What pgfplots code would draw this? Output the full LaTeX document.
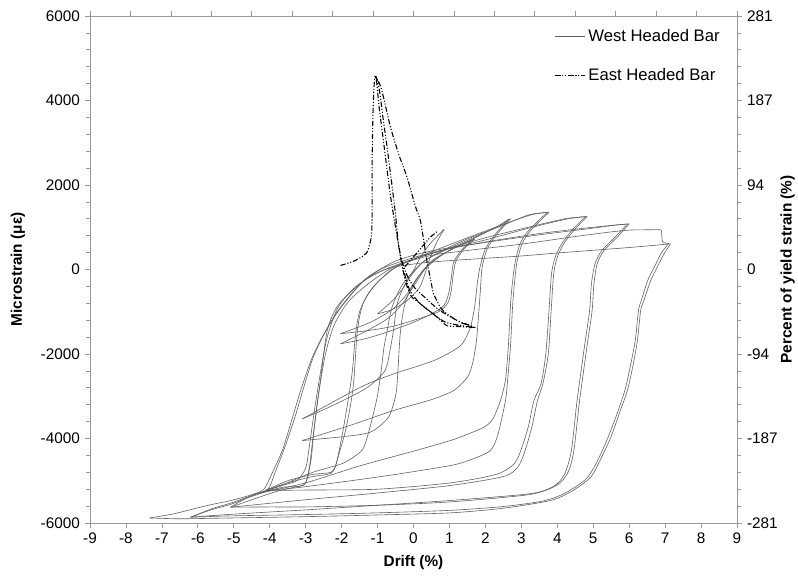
\documentclass[border=0pt]{standalone}
\usepackage{fontspec}
\setmainfont{Liberation Sans}
\usepackage{pgfplots}
\pgfplotsset{compat=1.18}

\pgfplotsset{
  west/.style={black!62, line width=0.45pt, smooth, tension=0.45, forget plot},
  westleg/.style={black!62, line width=0.45pt, smooth, tension=0.45},
  east/.style={black, line width=0.8pt, smooth, tension=0.4,
    dash pattern=on 4pt off 1.4pt on 0.8pt off 1.4pt on 0.8pt off 1.4pt},
  frame/.style={
    at={(0,0)}, anchor=south west,
    scale only axis, width=485.25pt, height=380.25pt,
    ymin=-6000, ymax=6000,
    ytick={-6000,-4000,-2000,0,2000,4000,6000},
    minor y tick num=4,
    tick align=outside,
    axis line style={black!40},
    tick style={black!40, line width=0.5pt},
    major tick length=4pt, minor tick length=3pt,
    ticklabel style={font=\fontsize{11.5}{13}\selectfont},
  },
}

\begin{document}
\begin{tikzpicture}
\useasboundingbox (-67.5pt,-45.75pt) rectangle (531pt,392.25pt);

\begin{axis}[frame,
  xmin=-9, xmax=9,
  xtick={-9,-8,-7,-6,-5,-4,-3,-2,-1,0,1,2,3,4,5,6,7,8,9},
  xticklabels={-9,-8,-7,-6,-5,-4,-3,-2,-1,0,1,2,3,4,5,6,7,8,9},
  yticklabels={-6000,-4000,-2000,0,2000,4000,6000},
  xtick pos=bottom, ytick pos=left,
  xlabel={Drift (\%)}, ylabel={Microstrain (με)},
  every axis x label/.style={at={(rel axis cs:0.5,0)}, yshift=-30pt, anchor=center,
    font=\bfseries\fontsize{11.5}{13}\selectfont},
  every axis y label/.style={at={(rel axis cs:0,0.5)}, xshift=-54pt, rotate=90, anchor=center,
    font=\bfseries\fontsize{11.5}{13}\selectfont},
  legend style={at={(axis cs:3.92,5750)}, anchor=north west, draw=none, fill=none,
    font=\fontsize{12.5}{14}\selectfont, row sep=15pt, inner sep=0pt},
  legend cell align=left,
  legend image code/.code={\draw[#1, smooth=false] (0pt,0pt) -- (22.5pt,0pt);},
]

% ---- West Headed Bar ----
% 7 % cycle
\addplot[westleg] coordinates {(7.15,607) (6.97,370) (6.78,55) (6.6,-260) (6.41,-733) (6.32,-970) (6.23,-1680) (6.1,-2300) (5.95,-2864) (5.75,-3350) (5.5,-3950) (5.2,-4500) (4.93,-4916) (4.4,-5250) (3.81,-5467) (2.5,-5650) (1.03,-5760) (-1,-5810) (-3,-5850) (-5,-5880) (-6.5,-5900) (-7.34,-5880)};
\addplot[west] coordinates {(-7.34,-5880) (-6.67,-5783) (-5.74,-5586) (-5.09,-5470) (-4.5,-5330) (-4.16,-5200) (-3.95,-4850) (-3.65,-4284) (-3.4,-3600) (-3.14,-2864) (-2.85,-2150) (-2.59,-1680) (-2.3,-1250) (-1.94,-812) (-1.38,-260) (-0.9,-40) (-0.55,55) (0.19,150) (1.0,210) (2.0,265) (3.0,320) (4.0,390) (5.0,455) (6.0,520) (6.8,580) (7.15,607)};
\addplot[west] coordinates {(7.1,615) (6.9,400) (6.72,90) (6.53,-230) (6.35,-700) (6.26,-970) (6.17,-1680) (6.03,-2300) (5.88,-2864) (5.66,-3420) (5.4,-4000) (5.1,-4560) (4.8,-4960) (4.2,-5300) (3.6,-5480) (2.5,-5610) (1.03,-5700) (-1,-5760) (-3,-5800) (-5,-5830) (-6.2,-5862)};
\addplot[west] coordinates {(-6.2,-5862) (-5.6,-5680) (-5.09,-5560) (-4.6,-5400) (-4.0,-5230) (-3.6,-5150) (-3.05,-5100) (-2.9,-4700) (-2.8,-4000) (-2.65,-3000) (-2.45,-2000) (-2.2,-1300) (-1.8,-750) (-1.2,-300) (-0.5,80) (0.47,330) (1.5,450) (3.0,600) (4.5,780) (5.5,890) (6.04,935)};
\addplot[west, smooth=false] coordinates {(6.04,935) (6.5,940) (6.85,940) (6.9,900) (6.93,660) (7.1,615)};
% 6 % cycle
\addplot[west] coordinates {(6.0,1081) (5.67,765) (5.3,450) (5.11,135) (5.02,-340) (4.97,-970) (4.85,-1680) (4.7,-2600) (4.6,-3250) (4.46,-4300) (4.3,-4800) (4.0,-5100) (3.3,-5300) (1.03,-5467) (-1,-5580) (-3,-5690) (-5,-5790) (-6.2,-5862)};
\addplot[west] coordinates {(-6.2,-5862) (-5.6,-5660) (-5.09,-5530) (-4.5,-5350) (-4.05,-5200) (-3.85,-4800) (-3.58,-4206) (-3.3,-3500) (-3.08,-2864) (-2.8,-2100) (-2.53,-1600) (-2.2,-1100) (-1.85,-700) (-1.3,-200) (-0.5,200) (0.5,440) (2,640) (3.5,820) (5,980) (5.6,1050) (6.0,1081)};
\addplot[west] coordinates {(5.95,1075) (5.6,760) (5.24,450) (5.05,135) (4.95,-340) (4.9,-970) (4.78,-1680) (4.63,-2600) (4.53,-3250) (4.39,-4300) (4.2,-4850) (3.9,-5130) (3.2,-5330) (1.03,-5500) (-1,-5580) (-3,-5620) (-4,-5620) (-5.09,-5626)};
\addplot[west] coordinates {(-5.09,-5626) (-4.5,-5450) (-3.8,-5250) (-3.3,-5150) (-3.0,-5050) (-2.85,-4500) (-2.77,-3808) (-2.59,-2626) (-2.4,-1444) (-2.1,-850) (-1.5,-350) (-0.8,50) (0.5,400) (2,650) (3.5,850) (5,1000) (5.95,1075)};
% 5 % cycle
\addplot[west] coordinates {(4.83,1254) (4.46,923) (4.18,607) (4.0,290) (3.9,-103) (3.83,-970) (3.75,-2000) (3.6,-2700) (3.45,-3100) (3.3,-3700) (3.1,-4300) (2.9,-4680) (2.5,-4900) (1.03,-5112) (-1,-5290) (-3,-5450) (-5.09,-5626)};
\addplot[west] coordinates {(-5.09,-5626) (-4.5,-5350) (-3.6,-5100) (-3.24,-4994) (-3.0,-4700) (-2.9,-4200) (-2.75,-3300) (-2.58,-2400) (-2.4,-1600) (-2.1,-900) (-1.6,-400) (-0.8,0) (0.5,380) (2,700) (3.3,1000) (4.3,1200) (4.83,1254)};
\addplot[west] coordinates {(4.78,1250) (4.4,920) (4.12,600) (3.94,290) (3.84,-103) (3.77,-970) (3.68,-2000) (3.55,-2700) (3.35,-3100) (3.2,-3700) (3.0,-4250) (2.8,-4600) (2.3,-4850) (1.03,-5050) (-1,-5200) (-3,-5220) (-4.12,-5231)};
\addplot[west] coordinates {(-4.12,-5231) (-3.5,-5050) (-2.8,-4900) (-2.4,-4850) (-2.22,-4758) (-2.05,-4300) (-1.89,-3808) (-1.75,-3200) (-1.66,-2626) (-1.56,-1444) (-1.4,-800) (-1.0,-300) (-0.3,150) (0.8,450) (2,750) (3.2,1000) (4.2,1200) (4.78,1250)};
% 4 % cycle
\addplot[west] coordinates {(3.77,1357) (3.26,923) (3.02,607) (2.87,135) (2.79,-497) (2.75,-970) (2.7,-1800) (2.62,-2600) (2.56,-3100) (2.35,-3900) (2.14,-4284) (1.6,-4500) (1.03,-4640) (-0.5,-4850) (-2,-5030) (-3.3,-5170) (-4.12,-5231)};
\addplot[west] coordinates {(-4.12,-5231) (-3.5,-5000) (-2.8,-4850) (-2.3,-4800) (-2.15,-4600) (-1.98,-3900) (-1.82,-3100) (-1.7,-2400) (-1.62,-1600) (-1.5,-1000) (-1.2,-500) (-0.6,0) (0.3,350) (1.5,750) (2.6,1100) (3.3,1300) (3.77,1357)};
\addplot[west] coordinates {(3.72,1350) (3.2,920) (2.96,600) (2.82,135) (2.73,-497) (2.69,-970) (2.64,-1800) (2.56,-2600) (2.42,-3100) (2.2,-3550) (1.96,-3732) (1.5,-3900) (1.03,-4048) (0,-4300) (-1.5,-4650) (-3,-5050) (-4.3,-5300)};
\addplot[west] coordinates {(-4.3,-5300) (-3.6,-5080) (-2.8,-4800) (-2.0,-4600) (-1.6,-4400) (-1.38,-4206) (-1.2,-3700) (-1.01,-3020) (-0.9,-2400) (-0.82,-1838) (-0.73,-1444) (-0.6,-900) (-0.3,-350) (0.3,200) (1.3,650) (2.5,1050) (3.2,1290) (3.72,1350)};
% 3 % cycle
\addplot[west] coordinates {(2.7,1200) (2.33,844) (2.05,490) (1.91,55) (1.86,-497) (1.82,-970) (1.75,-1700) (1.65,-2200) (1.5,-2550) (1.12,-2864) (0.5,-3080) (-0.55,-3337) (-1.8,-3700) (-3.1,-4048)};
\addplot[west] coordinates {(-3.1,-4048) (-2.0,-3960) (-1.2,-3850) (-0.7,-3500) (-0.5,-3000) (-0.45,-2626) (-0.36,-1444) (-0.2,-700) (0.2,-100) (0.8,350) (1.6,700) (2.3,1000) (2.7,1200)};
\addplot[west] coordinates {(2.65,1190) (2.28,840) (2.0,490) (1.85,55) (1.78,-300) (1.7,-900) (1.62,-1250) (1.59,-1367) (1.31,-1800) (0.57,-2154) (-0.55,-2470) (-1.47,-2785) (-3.09,-3535)};
\addplot[west] coordinates {(-3.09,-3535) (-2.2,-3200) (-1.3,-2800) (-0.8,-2400) (-0.65,-1900) (-0.55,-1400) (-0.45,-800) (-0.2,-300) (0.3,200) (1.0,500) (1.8,800) (2.3,1000) (2.65,1190)};
% 2 % cycle
\addplot[west] coordinates {(1.7,720) (1.4,480) (1.18,200) (1.1,-150) (1.05,-500) (0.95,-800) (0.7,-1000) (0.2,-1150) (-0.6,-1350) (-1.3,-1450) (-2.03,-1520)};
\addplot[west] coordinates {(-2.03,-1520) (-1.2,-1250) (-0.6,-950) (-0.2,-600) (0.1,-200) (0.5,200) (1.0,450) (1.4,620) (1.7,720)};
\addplot[west] coordinates {(1.65,700) (1.35,470) (1.12,180) (1.05,-200) (0.98,-560) (0.85,-850) (0.5,-1050) (0,-1250) (-0.8,-1500) (-1.4,-1650) (-2.03,-1760)};
\addplot[west] coordinates {(-2.03,-1760) (-1.3,-1450) (-0.7,-1150) (-0.3,-800) (0.0,-400) (0.4,100) (0.9,400) (1.3,580) (1.65,700)};
% 1 % cycle
\addplot[west] coordinates {(0.85,950) (0.65,650) (0.45,250) (0.3,-150) (0.15,-450) (-0.2,-750) (-0.6,-950) (-1.0,-1050)};
\addplot[west] coordinates {(-1.0,-1050) (-0.6,-750) (-0.3,-450) (-0.05,-100) (0.2,300) (0.45,600) (0.85,950)};

% ---- East Headed Bar ----
\addplot[east] coordinates {(-2.03,95) (-1.62,213) (-1.3,400) (-1.17,800) (-1.15,1500) (-1.15,2600) (-1.13,3600) (-1.1,4300) (-1.06,4600)
 (-0.95,4250) (-0.85,3600) (-0.72,2800) (-0.6,2000) (-0.5,1300) (-0.42,600) (-0.32,100) (-0.2,-350) (-0.05,-650) (0.1,-750)
 (0.4,-950) (0.9,-1250) (1.68,-1367)
 (1.2,-1200) (0.7,-950) (0.3,-650) (0,-400) (-0.2,-100) (-0.35,300) (-0.5,1000) (-0.65,1800) (-0.8,2800) (-0.95,3800) (-1.02,4400) (-1.05,4550)
 (-0.9,4300) (-0.64,3370) (-0.4,2700) (-0.18,2185) (0.05,1500) (0.19,1160) (0.3,600) (0.37,213) (0.5,-350) (0.56,-575) (0.75,-900) (0.93,-1050) (1.3,-1250) (1.68,-1367)
 (1.3,-1350) (0.93,-1330) (0.66,-1130) (0.19,-812) (-0.1,-500) (-0.25,-100) (-0.3,0) (-0.1,200) (0.2,500) (0.45,750) (0.66,900)};

\legend{West Headed Bar, East Headed Bar}
\end{axis}

\begin{axis}[frame,
  xmin=0, xmax=16,
  xtick={0,1,2,3,4,5,6,7,8,9,10,11,12,13,14,15,16}, xticklabels={},
  xtick pos=top, ytick pos=right,
  yticklabels={-281,-187,-94,0,94,187,281},
  ylabel={Percent of yield strain (\%)},
  every axis y label/.style={at={(rel axis cs:1,0.5)}, xshift=38pt, rotate=90, anchor=center,
    font=\bfseries\fontsize{11.5}{13}\selectfont},
]
\end{axis}
\end{tikzpicture}
\end{document}
